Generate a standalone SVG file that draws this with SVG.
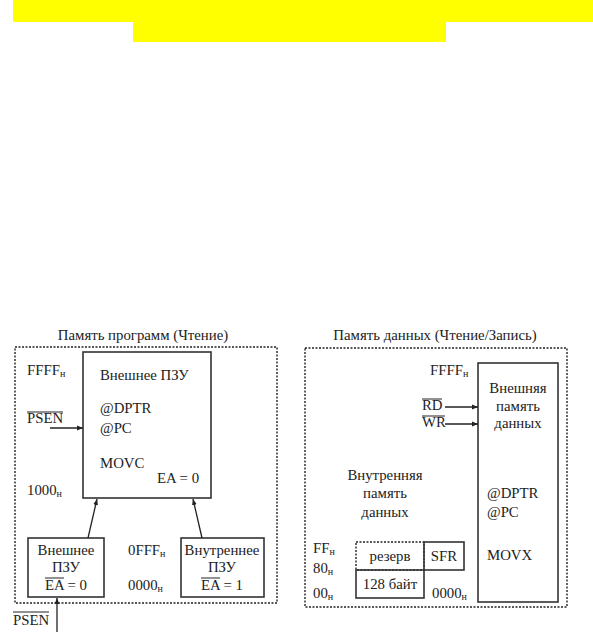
<svg xmlns="http://www.w3.org/2000/svg" width="593" height="632" viewBox="0 0 593 632">
<style>
text{font-family:"Liberation Serif","Times New Roman",serif;font-size:14.8px;fill:#222}
.sub{font-size:10px}
.box{fill:none;stroke:#333;stroke-width:1.6}
.dash{fill:none;stroke:#222;stroke-width:1.4;stroke-dasharray:2 1.5}
.ln{stroke:#222;stroke-width:1.3;fill:none}
.ol{stroke:#222;stroke-width:1}
</style>
<defs>
<marker id="ah" viewBox="0 0 10 10" refX="10" refY="5" markerWidth="6" markerHeight="6" orient="auto" markerUnits="userSpaceOnUse"><path d="M0,1 L10,5 L0,9 z" fill="#222"/></marker>
</defs>
<g id="banner">
<rect x="13" y="0" width="580" height="22" fill="#ffff00"/>
<rect x="133" y="21" width="313" height="21" fill="#ffff00"/>
</g>
<g id="program-memory">
<text x="143" y="340" text-anchor="middle">Память программ (Чтение)</text>
<rect class="dash" x="15" y="347" width="262" height="256"/>
<text x="27" y="375">FFFF<tspan class="sub" dy="2">н</tspan></text>
<text x="27" y="423">PSEN</text>
<line class="ol" x1="27" y1="412" x2="63" y2="412"/>
<text x="27" y="495">1000<tspan class="sub" dy="2">н</tspan></text>
<text x="128" y="555">0FFF<tspan class="sub" dy="2">н</tspan></text>
<text x="128" y="590">0000<tspan class="sub" dy="2">н</tspan></text>
</g>
<g id="ext-rom">
<rect class="box" x="83" y="352" width="128" height="146"/>
<text x="100" y="380">Внешнее ПЗУ</text>
<text x="100" y="413">@DPTR</text>
<text x="100" y="433">@PC</text>
<text x="100" y="468">MOVC</text>
<text x="157" y="483">EA = 0</text>
</g>
<g id="ext-rom-small">
<rect class="box" x="28" y="538" width="76" height="59"/>
<text x="66" y="555" text-anchor="middle">Внешнее</text>
<text x="66" y="572" text-anchor="middle">ПЗУ</text>
<text x="66" y="590" text-anchor="middle">EA = 0</text>
<line class="ol" x1="45" y1="578" x2="64" y2="578"/>
</g>
<g id="int-rom">
<rect class="box" x="181" y="538" width="83" height="59"/>
<text x="222" y="555" text-anchor="middle">Внутреннее</text>
<text x="222" y="572" text-anchor="middle">ПЗУ</text>
<text x="222" y="590" text-anchor="middle">EA = 1</text>
<line class="ol" x1="201" y1="578" x2="220" y2="578"/>
</g>
<g id="psen-bottom">
<text x="13" y="625">PSEN</text>
<line class="ol" x1="13" y1="612" x2="49" y2="612"/>
</g>
<g id="data-memory">
<text x="435" y="340" text-anchor="middle">Память данных (Чтение/Запись)</text>
<rect class="dash" x="305" y="348" width="262" height="259"/>
<text x="430" y="375">FFFF<tspan class="sub" dy="2">н</tspan></text>
<text x="422" y="410">RD</text>
<line class="ol" x1="422" y1="399" x2="442" y2="399"/>
<text x="422" y="427">WR</text>
<line class="ol" x1="422" y1="416" x2="445" y2="416"/>
<text x="385" y="480" text-anchor="middle">Внутренняя</text>
<text x="385" y="498" text-anchor="middle">память</text>
<text x="385" y="517" text-anchor="middle">данных</text>
<text x="313" y="553">FF<tspan class="sub" dy="2">н</tspan></text>
<text x="313" y="573">80<tspan class="sub" dy="2">н</tspan></text>
<text x="313" y="598">00<tspan class="sub" dy="2">н</tspan></text>
<text x="432" y="598">0000<tspan class="sub" dy="2">н</tspan></text>
</g>
<g id="ext-ram">
<rect class="box" x="478" y="363" width="80" height="239"/>
<text x="518" y="393" text-anchor="middle">Внешняя</text>
<text x="518" y="411" text-anchor="middle">память</text>
<text x="518" y="428" text-anchor="middle">данных</text>
<text x="487" y="498">@DPTR</text>
<text x="487" y="517">@PC</text>
<text x="487" y="560">MOVX</text>
</g>
<g id="reserve">
<rect class="dash" x="356" y="542" width="68" height="28"/>
<text x="390" y="561" text-anchor="middle">резерв</text>
</g>
<g id="sfr">
<rect class="box" x="424" y="542" width="40" height="28"/>
<text x="444" y="561" text-anchor="middle">SFR</text>
</g>
<g id="ram128">
<rect class="box" x="356" y="570" width="68" height="28"/>
<text x="390" y="589" text-anchor="middle">128 байт</text>
</g>
<g id="connectors">
<line class="ln" x1="50" y1="428" x2="83" y2="428" marker-end="url(#ah)"/>
<line class="ln" x1="88" y1="538" x2="97" y2="499" marker-end="url(#ah)"/>
<line class="ln" x1="202" y1="538" x2="193" y2="499" marker-end="url(#ah)"/>
<line class="ln" x1="57" y1="632" x2="57" y2="598" marker-end="url(#ah)"/>
<line class="ln" x1="445" y1="407" x2="478" y2="407" marker-end="url(#ah)"/>
<line class="ln" x1="445" y1="424" x2="478" y2="424" marker-end="url(#ah)"/>
</g>
</svg>
